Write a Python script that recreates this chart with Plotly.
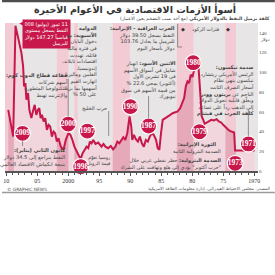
import numpy as np
import plotly.graph_objects as go

# ---------------- data ----------------
years = [1969.95, 1971.17, 1972.24, 1973.09, 1973.25, 1973.57, 1973.95, 1974.27, 1974.64, 1975.01,
         1975.33, 1975.71, 1976.08, 1976.51, 1976.93, 1977.31, 1977.68, 1978.00, 1978.27, 1978.48,
         1978.64, 1978.80, 1979.01, 1979.17, 1979.39, 1979.71, 1979.97, 1980.24, 1980.51, 1980.77,
         1981.04, 1981.31, 1981.57, 1981.95, 1982.37, 1982.80, 1983.17, 1983.55, 1983.97, 1984.40,
         1984.77, 1985.04, 1985.31, 1985.57, 1985.84, 1986.21, 1986.53, 1986.85, 1987.17, 1987.49,
         1987.81, 1988.13, 1988.45, 1988.77, 1989.09, 1989.41, 1989.68, 1989.84, 1990.11, 1990.48,
         1990.80, 1991.12, 1991.44, 1991.76, 1992.08, 1992.40, 1992.77, 1993.15, 1993.57, 1994.00,
         1994.32, 1994.64, 1995.17, 1995.60, 1995.97, 1996.24, 1996.51, 1996.77, 1997.04, 1997.31,
         1997.68, 1998.00, 1998.37, 1998.69, 1999.01, 1999.33, 1999.65, 1999.97, 2000.40, 2000.77,
         2001.20, 2001.57, 2001.84, 2002.11, 2002.37, 2002.64, 2002.91, 2003.17, 2003.44, 2003.71,
         2003.97, 2004.24, 2004.45, 2004.67, 2004.88, 2005.15, 2005.41, 2005.63, 2005.95, 2006.27,
         2006.48, 2006.75, 2006.91, 2007.12, 2007.28, 2007.55, 2007.87, 2008.24, 2008.51, 2008.88,
         2009.31, 2009.68]
price = [20.7, 20.7, 20.0, 20.7, 39.0, 39.7, 40.7, 42.4, 44.4, 46.8,
         49.2, 50.2, 52.5, 51.2, 51.9, 50.2, 49.2, 47.8, 52.5, 55.3,
         72.2, 85.8, 106.8, 104.0, 105.4, 102.0, 95.3, 97.6, 89.2, 90.8,
         85.8, 73.9, 68.8, 63.7, 60.3, 59.3, 58.6, 56.9, 55.3, 53.6,
         51.9, 38.3, 21.4, 23.1, 31.5, 36.6, 38.3, 34.9, 29.8, 31.5,
         24.7, 28.1, 34.9, 29.8, 32.2, 36.6, 31.5, 45.1, 55.3, 38.3,
         31.5, 34.2, 31.5, 28.1, 29.8, 24.7, 22.0, 25.4, 23.1, 24.7,
         27.5, 24.7, 28.8, 27.5, 31.5, 28.1, 29.8, 23.1, 24.7, 21.4,
         18.0, 11.9, 16.3, 21.4, 24.7, 31.5, 36.6, 38.3, 31.5, 21.4,
         24.7, 33.2, 29.8, 38.3, 40.0, 34.9, 45.1, 46.8, 41.7, 53.6,
         50.2, 56.9, 53.6, 63.7, 62.0, 56.9, 67.1, 62.0, 53.6, 62.0,
         79.0, 72.2, 89.2, 85.8, 106.0, 119.7, 129.8, 141.7, 147.3, 34.9,
         48.5, 62.0]

recession_start = [2008.77, 1999.97, 1998.48, 1990.05, 1979.81, 1972.95]
recession_end = [2010.20, 2001.84, 1999.01, 1992.83, 1982.48, 1974.65]

callout_year = [2007.37, 2000.01, 1996.92, 1997.99, 1989.99, 1987.05, 1979.85, 1978.84, 1973.08, 1970.95]
callout_value = [38.2, 47.6, 40.5, 4.4, 65.2, 45.6, 109.8, 39.8, 7.8, 27.4]
callout_label = ["2009", "2000", "1997", "1998", "1990", "1987", "1980", "1979", "1973", "1971"]

x_tick_vals = [2010, 2005, 2000, 1995, 1990, 1985, 1980, 1975, 1970]
x_tick_text = ["10", "05", "2000", "95", "90", "85", "80", "75", "1970"]
y_tick_vals = [0, 20, 40, 60, 80, 100, 120, 140]

# ---------------- styling ----------------
RED = "#c8184b"
BG = "#e7e5e5"
STRIPE = "#f3cbd5"
UNDER = "#f1d6dd"
STRIPE_UNDER = "#e5a9ba"
AR = "DejaVu Sans"
SERIF = "Liberation Serif"

W, H = 275, 275
ML, MR, MT, MB = 3, 17, 23, 104
PW, PH = W - ML - MR, H - MT - MB


def P(X, Y):
    return (X - ML) / PW, (H - MB - Y) / PH


def rtl(lines):
    return "<br>".join("\u200f" + l + "\u200f" for l in lines)


fig = go.Figure()

yr = np.array(years)
pr = np.array(price)

# area under the line
fig.add_trace(go.Scatter(x=years, y=price, mode="lines", line=dict(width=0),
                         fill="tozeroy", fillcolor=UNDER, hoverinfo="skip", showlegend=False))
# darker part of recession stripes beneath the line
for a, b in zip(recession_start, recession_end):
    lo, hi = max(a, yr.min()), min(b, yr.max())
    if lo >= hi:
        continue
    xs = np.concatenate([[lo], yr[(yr > lo) & (yr < hi)], [hi]])
    ys = np.interp(xs, yr, pr)
    fig.add_trace(go.Scatter(x=xs, y=ys, mode="lines", line=dict(width=0),
                             fill="tozeroy", fillcolor=STRIPE_UNDER, hoverinfo="skip", showlegend=False))
# price line
fig.add_trace(go.Scatter(x=years, y=price, mode="lines", line=dict(color=RED, width=2),
                         hoverinfo="skip", showlegend=False))
# year call-out circles
fig.add_trace(go.Scatter(x=callout_year, y=callout_value, mode="markers+text", text=callout_label,
                         textposition="middle center",
                         textfont=dict(family=SERIF, size=7.5, color="white", weight="bold"),
                         marker=dict(size=16, color=RED, line=dict(color="white", width=1.2)),
                         cliponaxis=False, hoverinfo="skip", showlegend=False))

shapes = []
for a, b in zip(recession_start, recession_end):
    shapes.append(dict(type="rect", xref="x", yref="paper", x0=a, x1=b, y0=0, y1=1,
                       fillcolor=STRIPE, line=dict(width=0), layer="below"))


def pline(X0, Y0, X1, Y1, color="#555", width=0.6):
    x0, y0 = P(X0, Y0)
    x1, y1 = P(X1, Y1)
    shapes.append(dict(type="line", xref="paper", yref="paper", x0=x0, y0=y0, x1=x1, y1=y1,
                       line=dict(color=color, width=width)))


def prect(X0, Y0, X1, Y1, color):
    x0, y0 = P(X0, Y0)
    x1, y1 = P(X1, Y1)
    shapes.append(dict(type="rect", xref="paper", yref="paper", x0=x0, y0=y0, x1=x1, y1=y1,
                       fillcolor=color, line=dict(width=0)))


# top dark bar and bottom rule
prect(0, 0, 275, 2.2, "#4d4d4d")
pline(0, 192.5, 275, 192.5, color="#9a9a9a", width=1.5)

# leader lines
pline(66.7, 79, 66.7, 116.5)
pline(147.7, 96, 147.7, 118)
pline(248.3, 110, 248.3, 136)
pline(20.7, 141, 20.7, 146)
pline(177, 24, 177, 47)
pline(177, 47, 181.5, 47)
pline(107.5, 111, 107.5, 136)

# pointer of the record box
ax, ay = P(23.5, 20.5)
bx, by = P(17.5, 23.5)
cx, cy = P(23.5, 27)
shapes.append(dict(type="path", xref="paper", yref="paper",
                   path=f"M {ax},{ay} L {bx},{by} L {cx},{cy} Z",
                   fillcolor=RED, line=dict(width=0)))

annotations = []


def note(X, Y, text, size=5, xanchor="right", yanchor="top", align="right",
         color="#444", family=AR, **kw):
    x, y = P(X, Y)
    d = dict(xref="paper", yref="paper", x=x, y=y, text=text, showarrow=False,
             xanchor=xanchor, yanchor=yanchor, align=align, borderpad=0,
             font=dict(family=family, size=size, color=color))
    d.update(kw)
    annotations.append(d)


# title / subtitle
note(134, 9.5, "<b>أسوأ الأزمات الاقتصادية في الأعوام الأخيرة</b>", size=9.5,
     xanchor="center", yanchor="middle", align="center", color="#333")
note(271, 18.5, rtl(["<b>كلفة برميل النفط بالدولار الأمريكي</b> (مع أخذ نسب التضخم بعين الاعتبار)"]),
     size=4.6, yanchor="middle", color="#444")

# record box
note(70, 19.3, rtl(["11 تموز (يوليو) 2008", "النفط يسجل مستوى", "قياسياً 147.27 دولار", "للبرميل"]),
     size=5, color="white", bgcolor=RED, borderpad=1.5, width=44, height=25, valign="middle")

# body notes
note(65, 145.5, rtl(["<b>كانون الثاني (يناير):</b>", "النفط يتراجع إلى 34.5 دولار",
                     "نتيجة انكماش الاقتصاد العالمي"]), size=5.2)
note(68, 71, rtl(["<b>فقاعة قطاع الدوت كوم:</b>", "أسهم شركات", "التكنولوجيا المتطورة", "والإنترنت تهبط"]),
     size=5.1)
note(97, 24.5, rtl(["<b>الدوامة</b>", "<b>الآسيوية:</b> مع", "دخول اليابان", "في فترة مالية",
                    "قاتلة، تهددت", "اقتصادات تايلاند،", "إندونيسيا،", "الفلبين وماليزيا",
                    "انهارت القيم", "أسهمها بما يزيد", "على 50 %"]), size=5.1)
note(107, 108.3, rtl(["حرب الخليج"]), size=5.1, yanchor="middle")
note(111, 153.5, rtl(["روسيا تعوّم", "قيمة الروبل"]), size=4.8)
note(176, 58.5, rtl(["<b>الاثنين الأسود:</b> انهيار", "شامل في أسواق الأسهم", "في 19 تشرين الأول",
                     "(أكتوبر) يمحي 22.6 %", "من قيمة الأسهم في سوق", "نيويورك"]), size=5.1)
note(175, 24, rtl(["<b>الحرب العراقية - الإيرانية:</b>", "النفط يسجل 39.50 دولار",
                   "للبرميل ما يعادل 103.76", "دولار بأسعار اليوم"]), size=5.1)
note(255, 62.5, rtl(["<b>صدمة نيكسون:</b>", "الرئيس الأمريكي ريتشارد", "نيكسون ينهي نظام",
                     "أسعار الصرف الثابت", "الناجم عن <b>بريتون وودز</b>", "ويعلّق قابلية تحويل الدولار",
                     "إلى الذهب رداً على تصاعد", "<b>كلفة الحرب في فيتنام</b>"]), size=5.1)
note(197, 139.5, rtl(["<b>الثورة الإيرانية:</b>", "الصدمة البترولية الثانية"]), size=5.1,
     xanchor="center", align="center")
note(222, 155.7, rtl(["<b>الصدمة البترولية:</b> حظر نفطي عربي خلال",
                      "\"حرب أكتوبر\" يؤدي إلى هلع وتهافت على الشراء"]), size=5.0)

# legend of recession stripes
note(205.5, 29, rtl(["فترات الركود"]), size=5, xanchor="center", yanchor="middle", align="center")
note(182, 29, "◆", size=5, xanchor="center", yanchor="middle", color="#333", family="DejaVu Sans")
note(228, 29, "◆", size=5, xanchor="center", yanchor="middle", color="#333", family="DejaVu Sans")

# unit label
note(259.5, 40, rtl(["دولار"]), size=4.4, xanchor="left", yanchor="middle", align="left")

# footer
note(4, 189, "© GRAPHIC NEWS", size=4.4, xanchor="left", yanchor="middle", align="left",
     color="#555", family="DejaVu Sans")
note(271, 188.5, rtl(["المصدر: مجلس الاحتياط الفيدرالي، إدارة معلومات الطاقة الأمريكية"]),
     size=4.4, yanchor="middle", color="#555")

fig.update_layout(
    width=W, height=H,
    margin=dict(l=ML, r=MR, t=MT, b=MB, pad=0),
    paper_bgcolor="white",
    plot_bgcolor=BG,
    showlegend=False,
    hovermode=False,
    shapes=shapes,
    annotations=annotations,
    xaxis=dict(range=[2010.2, 1969.4], tickmode="array", tickvals=x_tick_vals, ticktext=x_tick_text,
               ticks="outside", ticklen=3, tickwidth=0.8, tickcolor="#555",
               showline=True, linecolor="#555", linewidth=1.5, showgrid=False, zeroline=False,
               tickfont=dict(family=SERIF, size=6, color="#333"),
               minor=dict(tickmode="linear", tick0=1970, dtick=1, ticks="outside", ticklen=2,
                          tickcolor="#555", tickwidth=0.6, showgrid=False)),
    yaxis=dict(range=[0, 150], side="right", tickmode="array", tickvals=y_tick_vals,
               showgrid=False, zeroline=False, showline=False, ticks="",
               tickfont=dict(family=SERIF, size=5, color="#444")),
)

fig.write_html("out.html")
